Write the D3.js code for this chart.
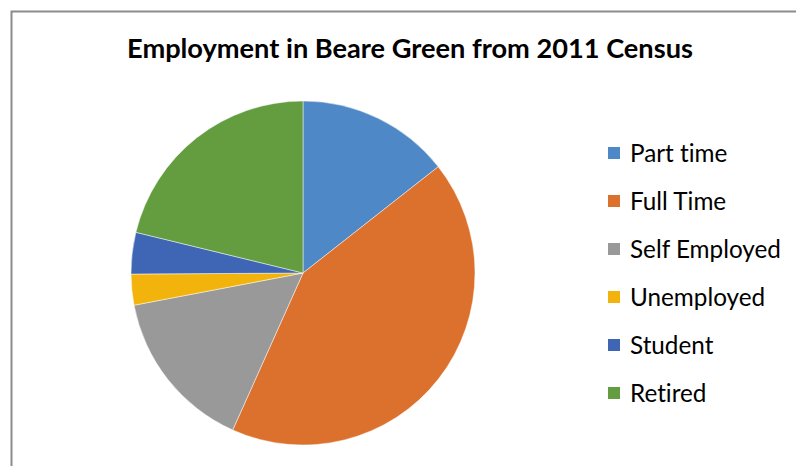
<!DOCTYPE html>
<html>
<head>
<meta charset="utf-8">
<script src="https://cdn.jsdelivr.net/npm/d3@7"></script>
<style>
  html, body { margin: 0; padding: 0; background: #ffffff; }
  svg { display: block; }
  text { font-variant-ligatures: none; font-feature-settings: "liga" 0, "clig" 0; }
</style>
</head>
<body>
<svg id="chart" width="796" height="466"></svg>
<script>
// Employment categories and their shares (%) in Beare Green, 2011 Census
const categories = ["Part time", "Full Time", "Self Employed", "Unemployed", "Student", "Retired"];
const shares = [14.4, 42.3, 15.3, 2.9, 3.9, 21.2];
const colors = ["#4f88c6", "#db712d", "#999999", "#f2b40c", "#3e66b4", "#639d3f"];
const titleText = "Employment in Beare Green from 2011 Census";

const svg = d3.select("#chart");
const W = 796, H = 466;
const fontFamily = "Lato, 'Open Sans', sans-serif";

// chart area frame (top and left edges)
svg.append("path")
  .attr("d", `M11.5,${H} V11.5 H${W}`)
  .attr("fill", "none")
  .attr("stroke", "#8c8c8c")
  .attr("stroke-width", 2);

// title
const title = svg.append("text")
  .attr("x", 410)
  .attr("y", 58)
  .attr("text-anchor", "middle")
  .attr("font-family", fontFamily)
  .attr("font-weight", "bold")
  .attr("font-size", 24)
  .attr("fill", "#000")
  .text(titleText);
// fit the title to its span
const tw = title.node().getComputedTextLength();
title.attr("font-size", 24 * 566 / tw);

// pie
const cx = 303, cy = 273, r = 172;
const data = categories.map((c, i) => ({ name: c, value: shares[i], color: colors[i] }));
const pie = d3.pie().value(d => d.value).sort(null);
const arc = d3.arc().innerRadius(0).outerRadius(r);

svg.append("g")
  .attr("transform", `translate(${cx},${cy})`)
  .selectAll("path")
  .data(pie(data))
  .join("path")
  .attr("d", arc)
  .attr("fill", d => d.data.color)
  .attr("stroke", "#ffffff")
  .attr("stroke-width", 0.8)
  .attr("stroke-opacity", 0.6);

// legend
const rowY = d3.scalePoint().domain(categories).range([153, 393]);
const legend = svg.append("g");
const items = legend.selectAll("g")
  .data(data)
  .join("g")
  .attr("transform", d => `translate(608,${rowY(d.name)})`);

items.append("rect")
  .attr("x", 0)
  .attr("y", -6)
  .attr("width", 12)
  .attr("height", 12)
  .attr("fill", d => d.color);

const labels = items.append("text")
  .attr("x", 22)
  .attr("y", 0)
  .attr("dy", "0.36em")
  .attr("font-family", fontFamily)
  .attr("font-size", 20)
  .attr("fill", "#000")
  .text(d => d.name);

// scale legend text so the widest label spans its width
const widest = labels.nodes().filter(n => n.textContent === "Self Employed")[0];
const lw = widest.getComputedTextLength();
labels.attr("font-size", 20 * 151 / lw);
</script>
</body>
</html>
